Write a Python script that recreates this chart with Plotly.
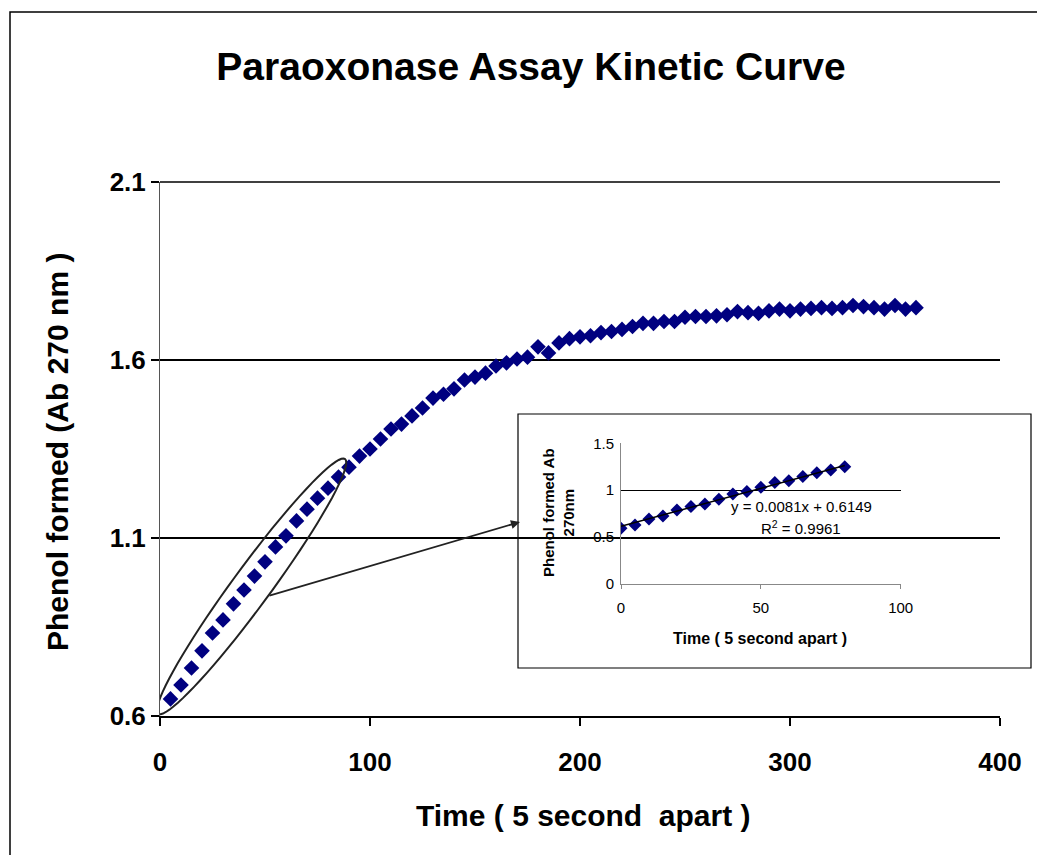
import numpy as np
import plotly.graph_objects as go

# ---- data ----
time_main = list(range(5, 365, 5))
phenol_main = [0.648, 0.687, 0.735, 0.783, 0.833, 0.870, 0.915, 0.954, 0.993, 1.033,
               1.075, 1.106, 1.148, 1.181, 1.212, 1.240, 1.271, 1.299, 1.330, 1.350,
               1.378, 1.406, 1.420, 1.443, 1.465, 1.493, 1.504, 1.519, 1.544, 1.552,
               1.563, 1.583, 1.592, 1.603, 1.608, 1.637, 1.620, 1.648, 1.660, 1.665,
               1.668, 1.677, 1.680, 1.686, 1.694, 1.703, 1.703, 1.708, 1.708, 1.720,
               1.722, 1.722, 1.724, 1.727, 1.736, 1.733, 1.731, 1.738, 1.743, 1.738,
               1.743, 1.745, 1.747, 1.745, 1.747, 1.753, 1.750, 1.747, 1.743, 1.753,
               1.743, 1.747]

time_inset = list(range(0, 85, 5))
phenol_inset = [0.594, 0.629, 0.693, 0.725, 0.789, 0.825, 0.853, 0.903, 0.960, 0.985,
                1.031, 1.081, 1.102, 1.145, 1.187, 1.216, 1.251]

trend_slope = 0.0081
trend_intercept = 0.6149
trend_eq = "y = 0.0081x + 0.6149"
trend_r2 = "R<sup>2</sup> = 0.9961"

main_xticks = [0, 100, 200, 300, 400]
main_yticks = [0.6, 1.1, 1.6, 2.1]
inset_xticks = [0, 50, 100]
inset_yticks = [0, 0.5, 1, 1.5]

FONT = "Liberation Sans, Arial, sans-serif"
NAVY = "#000080"

W, H = 1037, 855
ML, MR, MT, MB = 160, 37, 182, 139
PW, PH = W - ML - MR, H - MT - MB

fig = go.Figure()

fig.add_trace(go.Scatter(
    x=time_main, y=phenol_main, mode="markers",
    marker=dict(symbol="diamond", size=12, color=NAVY, line=dict(width=0)),
    xaxis="x", yaxis="y", showlegend=False))

trend_x = [time_inset[0], time_inset[-1]]
trend_y = [trend_slope * v + trend_intercept for v in trend_x]
fig.add_trace(go.Scatter(
    x=time_inset, y=phenol_inset, mode="markers",
    marker=dict(symbol="diamond", size=10, color=NAVY, line=dict(width=0)),
    xaxis="x2", yaxis="y2", showlegend=False))
fig.add_trace(go.Scatter(
    x=trend_x, y=trend_y, mode="lines",
    line=dict(color="black", width=1.5),
    xaxis="x2", yaxis="y2", showlegend=False))

xr = [0, 400]
yr = [0.6, 2.1]
pxx = PW / (xr[1] - xr[0])
pxy = PH / (yr[1] - yr[0])

def to_paper_x(px):
    return (px - ML) / PW

def to_paper_y(py):
    return (H - MB - py) / PH

# ellipse around the early linear part (pixel-space geometry converted to data)
ell_cx, ell_cy = 43.6, 0.964
ell_a, ell_b = 158, 19
ang = np.arctan2(127.5, 93.5)
t = np.linspace(0, 2 * np.pi, 80)
u = ell_a * np.cos(t)
v = ell_b * np.sin(t)
dxp = u * np.cos(ang) - v * np.sin(ang)
dyp = u * np.sin(ang) + v * np.cos(ang)
ex = ell_cx + dxp / pxx
ey = ell_cy + dyp / pxy
path = "M " + " L ".join(f"{a:.3f},{b:.4f}" for a, b in zip(ex, ey)) + " Z"

shapes = [
    dict(type="path", path=path, xref="x", yref="y",
         line=dict(color="#222", width=2)),
    # top gridline at the range edge
    dict(type="line", xref="paper", yref="paper", x0=0, x1=1, y0=1, y1=1,
         line=dict(color="black", width=1.5)),
    # outer chart border
    dict(type="rect", xref="paper", yref="paper",
         x0=to_paper_x(10), x1=to_paper_x(1045), y0=to_paper_y(870), y1=to_paper_y(12),
         line=dict(color="black", width=1.5)),
    # inset box
    dict(type="rect", xref="paper", yref="paper",
         x0=to_paper_x(518), x1=to_paper_x(1031), y0=to_paper_y(668), y1=to_paper_y(414),
         line=dict(color="black", width=1.2)),
]

annotations = [
    dict(x=171.4, y=1.145, ax=51.4, ay=0.937, xref="x", yref="y", axref="x", ayref="y",
         text="", showarrow=True, arrowhead=2, arrowsize=1, arrowwidth=1.8,
         arrowcolor="#222"),
    dict(text="Time ( 5 second  apart )", xref="paper", yref="paper",
         x=to_paper_x(583), y=to_paper_y(815), xanchor="center", yanchor="middle",
         showarrow=False,
         font=dict(family=FONT, size=30, color="black", weight="bold")),
    dict(text="Phenol formed (Ab 270 nm )", xref="paper", yref="paper",
         x=to_paper_x(57), y=to_paper_y(452), xanchor="center", yanchor="middle",
         showarrow=False, textangle=-90,
         font=dict(family=FONT, size=30, color="black", weight="bold")),
    dict(text="Time ( 5 second apart )", xref="paper", yref="paper",
         x=to_paper_x(760), y=to_paper_y(638), xanchor="center", yanchor="middle",
         showarrow=False,
         font=dict(family=FONT, size=16, color="black", weight="bold")),
    dict(text="Phenol formed Ab<br>270nm", xref="paper", yref="paper",
         x=to_paper_x(558), y=to_paper_y(513), xanchor="center", yanchor="middle",
         showarrow=False, textangle=-90,
         font=dict(family=FONT, size=15, color="black", weight="bold")),
    dict(text=trend_eq, xref="x2", yref="y2", x=64.7, y=0.83, showarrow=False,
         xanchor="center", yanchor="middle",
         font=dict(family=FONT, size=15, color="black")),
    dict(text=trend_r2, xref="x2", yref="y2", x=64.5, y=0.60, showarrow=False,
         xanchor="center", yanchor="middle",
         font=dict(family=FONT, size=15, color="black")),
]

fig.update_layout(
    width=W, height=H,
    margin=dict(l=ML, r=MR, t=MT, b=MB, autoexpand=False),
    paper_bgcolor="white", plot_bgcolor="rgba(0,0,0,0)",
    title=dict(text="Paraoxonase Assay Kinetic Curve", x=531 / W, y=1 - 66 / H,
               xanchor="center", yanchor="middle",
               font=dict(family=FONT, size=39, color="black", weight="bold")),
    xaxis=dict(range=xr, tickvals=main_xticks, showgrid=False, zeroline=False,
               showline=True, linecolor="black", linewidth=2,
               ticks="outside", ticklen=8, tickcolor="black", tickwidth=1.5,
               ticklabelstandoff=14,
               tickfont=dict(family=FONT, size=26, color="black", weight="bold")),
    yaxis=dict(range=yr, tickvals=main_yticks, ticktext=[f"{v:.1f}" for v in main_yticks],
               showgrid=True, gridcolor="black", gridwidth=1.5, zeroline=False,
               showline=True, linecolor="#555", linewidth=1,
               ticks="outside", ticklen=8, tickcolor="black", tickwidth=1.5,
               tickfont=dict(family=FONT, size=26, color="black", weight="bold")),
    xaxis2=dict(domain=[to_paper_x(621), to_paper_x(900.7)], range=[0, 100],
                tickvals=inset_xticks, anchor="y2", showgrid=False, zeroline=False,
                showline=True, linecolor="#888", linewidth=1,
                ticks="outside", ticklen=4, tickcolor="#888",
                ticklabelstandoff=6,
                tickfont=dict(family=FONT, size=15, color="black")),
    yaxis2=dict(domain=[to_paper_y(584), to_paper_y(443.3)], range=[0, 1.5],
                tickvals=inset_yticks, anchor="x2", showgrid=True, gridcolor="black",
                gridwidth=1, zeroline=False, showline=True, linecolor="#888",
                linewidth=1, ticks="", ticklabelstandoff=3,
                tickfont=dict(family=FONT, size=15, color="black")),
    shapes=shapes, annotations=annotations,
)

fig.write_html("out.html")
